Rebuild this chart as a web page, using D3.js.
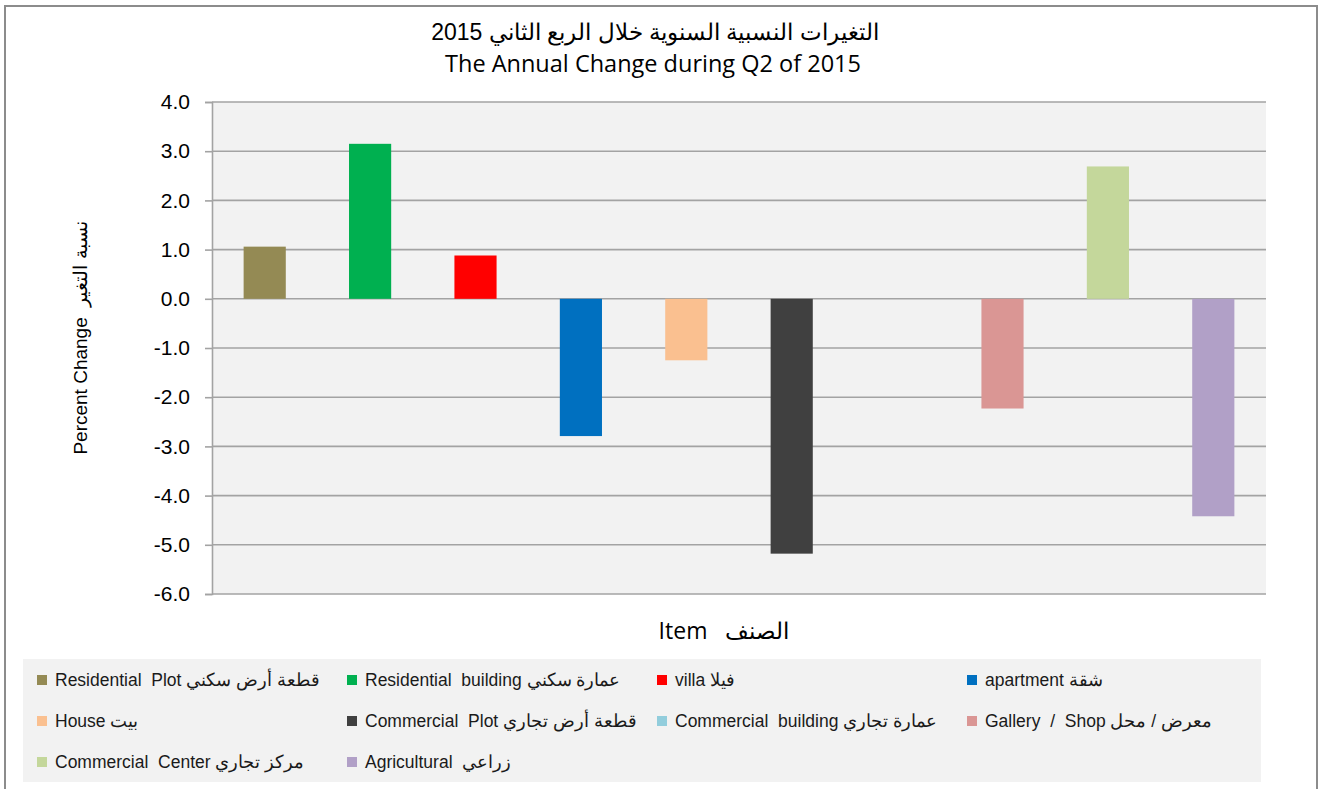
<!DOCTYPE html>
<meta charset="utf-8">
<style>
body{
  margin: 0;
  background: #fff;
}
svg text { white-space: pre; }
</style>
<script src="https://d3js.org/d3.v7.min.js"></script>
<svg width="1322" height="789"></svg>

<script>

// values
var items = ["Residential Plot", "Residential building", "villa", "apartment", "House",
             "Commercial Plot", "Commercial building", "Gallery / Shop", "Commercial Center", "Agricultural"];
var changes = [1.06, 3.15, 0.88, -2.79, -1.25, -5.18, 0, -2.23, 2.69, -4.42];
var colors = ["#948a54", "#00b050", "#ff0000", "#0070c0", "#fac090",
              "#404040", "#92cddc", "#da9694", "#c4d79b", "#b1a0c7"];
var legendLabels = ["Residential  Plot قطعة أرض سكني", "Residential  building عمارة سكني", "villa فيلا",
                    "apartment شقة", "House بيت", "Commercial  Plot قطعة أرض تجاري",
                    "Commercial  building عمارة تجاري", "Gallery  /  Shop معرض / محل",
                    "Commercial  Center مركز تجاري", "Agricultural  زراعي"];
var yTicks = [4, 3, 2, 1, 0, -1, -2, -3, -4, -5, -6];

var svg = d3.select("svg");

// plot box (window.top is reserved, so no "top" here)
var plotL = 212, plotR = 1266, plotT = 102, plotB = 594;

// outer chart frame
svg.append("rect")
   .attr("x", 5).attr("y", 6)
   .attr("width", 1312).attr("height", 800)
   .attr("fill", "#fff")
   .attr("stroke", "#8c8c8c")
   .attr("stroke-width", 2);

svg.append("rect")
   .attr("x", plotL).attr("y", plotT)
   .attr("width", plotR - plotL).attr("height", plotB - plotT)
   .attr("fill", "#f2f2f2");

var x = d3.scaleBand()
          .domain(items)
          .range([plotL, plotR])
          .paddingInner(0.6)
          .paddingOuter(0.3);

var y = d3.scaleLinear()
          .domain([-6, 4])
          .range([plotB, plotT]);

// grid
svg.append("g").selectAll("line")
   .data(yTicks)
   .enter().append("line")
   .attr("x1", plotL).attr("x2", plotR)
   .attr("y1", function(d) { return y(d); })
   .attr("y2", function(d) { return y(d); })
   .attr("stroke", "#a3a3a3")
   .attr("stroke-width", 1.6);

var yAxis = svg.append("g")
   .attr("transform", "translate(" + plotL + ",0)")
   .call(d3.axisLeft(y).tickValues(yTicks).tickSize(7).tickPadding(15)
           .tickFormat(function(d) { return d.toFixed(1); }));
yAxis.select(".domain").attr("stroke", "#a3a3a3").attr("stroke-width", 1.6);
yAxis.selectAll(".tick line").attr("stroke", "#a3a3a3").attr("stroke-width", 1.6);
yAxis.selectAll(".tick text")
     .attr("font-family", "Liberation Sans, Arial, sans-serif")
     .attr("font-size", 21)
     .attr("fill", "#000");

// bars
svg.append("g").selectAll("rect")
   .data(items)
   .enter().append("rect")
   .attr("x", function(d) { return x(d); })
   .attr("width", x.bandwidth())
   .attr("y", function(d, i) { return y(Math.max(0, changes[i])); })
   .attr("height", function(d, i) { return Math.abs(y(changes[i]) - y(0)); })
   .attr("fill", function(d, i) { return colors[i]; });

// titles
svg.append("text")
   .attr("x", 655).attr("y", 40)
   .attr("text-anchor", "middle")
   .attr("direction", "rtl")
   .attr("font-family", "Liberation Sans, Arial, sans-serif")
   .attr("font-size", 23)
   .text("التغيرات النسبية السنوية خلال الربع الثاني 2015");

svg.append("text")
   .attr("x", 653).attr("y", 72)
   .attr("text-anchor", "middle")
   .attr("font-family", "Open Sans, sans-serif")
   .attr("font-size", 23.5)
   .text("The Annual Change during Q2 of 2015");

svg.append("text")
   .attr("transform", "translate(87,338) rotate(-90)")
   .attr("text-anchor", "middle")
   .attr("font-family", "Liberation Sans, Arial, sans-serif")
   .attr("font-size", 19)
   .text("Percent Change  نسبة التغير");

svg.append("text")
   .attr("x", 724).attr("y", 639)
   .attr("text-anchor", "middle")
   .attr("font-family", "Open Sans, sans-serif")
   .attr("font-size", 23)
   .text("Item   الصنف");

// legend
svg.append("rect")
   .attr("x", 23).attr("y", 659)
   .attr("width", 1238).attr("height", 123)
   .attr("fill", "#f2f2f2");

var legend = svg.append("g").selectAll("g")
   .data(legendLabels)
   .enter().append("g")
   .attr("transform", function(d, i) {
     return "translate(" + (37 + (i % 4) * 310) + "," + (680 + Math.floor(i / 4) * 41) + ")";
   });

legend.append("rect")
      .attr("x", 0).attr("y", -5)
      .attr("width", 10).attr("height", 10)
      .attr("fill", function(d, i) { return colors[i]; });

legend.append("text")
      .attr("x", 18).attr("y", 6)
      .attr("font-family", "Liberation Sans, Arial, sans-serif")
      .attr("font-size", 17.5)
      .attr("fill", "#1a1a1a")
      .text(function(d) { return d; });

</script>
